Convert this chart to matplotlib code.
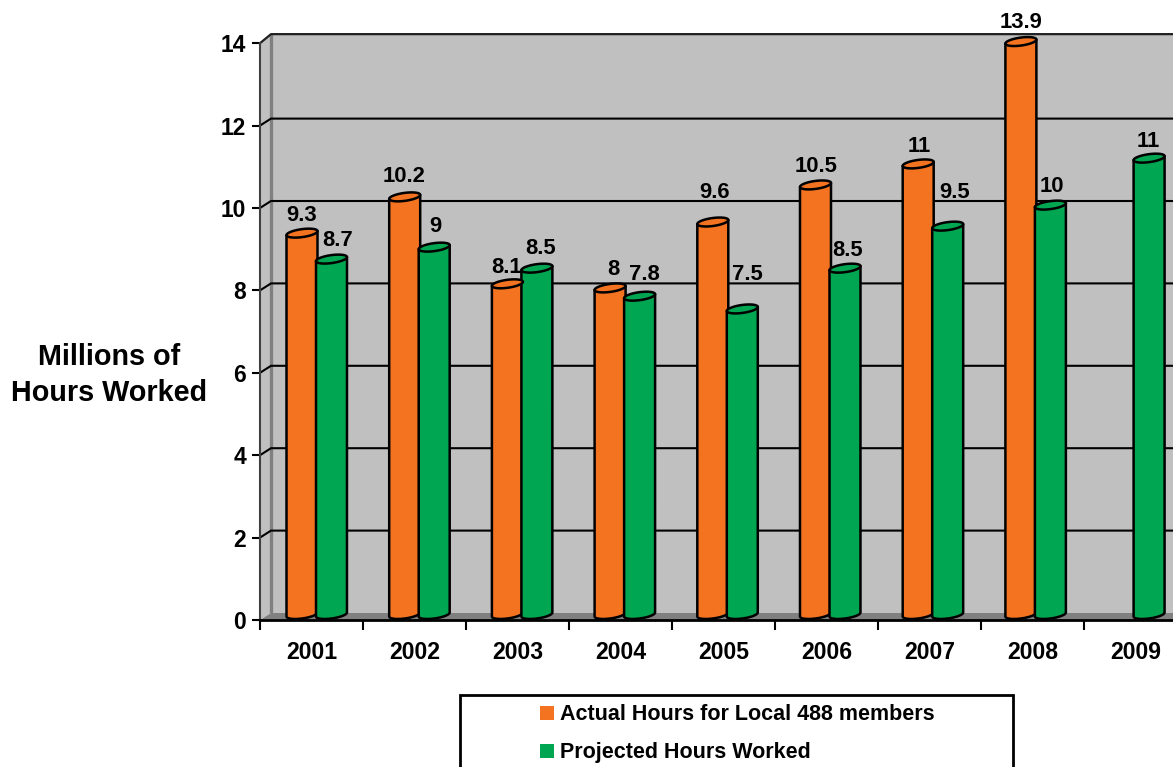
# -*- coding: utf-8 -*-
import numpy as np
from matplotlib import pyplot as plt
from matplotlib.patches import Polygon, Rectangle
from matplotlib.ticker import FixedLocator

plt.rcParams['font.family'] = ['Liberation Sans', 'DejaVu Sans']
plt.rcParams['font.weight'] = 'bold'

# data
years = ['2001', '2002', '2003', '2004', '2005', '2006', '2007', '2008', '2009']
actual = [9.3, 10.2, 8.1, 8, 9.6, 10.5, 11, 13.9, None]
projected = [8.7, 9, 8.5, 7.8, 7.5, 8.5, 9.5, 10, 11]
# heights as drawn, the chart does not quite follow its own labels
actual_drawn = [9.39, 10.27, 8.16, 8.06, 9.66, 10.56, 11.07, 14.04, None]
projected_drawn = [8.76, 9.05, 8.54, 7.86, 7.55, 8.54, 9.56, 10.07, 11.21]
yticks = [0, 2, 4, 6, 8, 10, 12, 14]
series_names = ['Actual Hours for Local 488 members', 'Projected Hours Worked']

ORANGE = '#F47321'
GREEN = '#00A651'
WALL = '#C0C0C0'
DARK = '#808080'

W, H = 1173, 767
X0, Y0, CAT, UNIT = 260, 620, 103, 41.2  # pixels
DX = 11 / CAT
DY = 7 / UNIT
BAR_STEP = 102.7 / CAT

# label nudges in pixels, from the top of each bar
actual_off = [(0, 17.5), (-1, 20.5), (-1, 16.5), (3, 18.5), (2, 29.5), (1, 18.5), (1, 17.5), (0, 19.5), None]
projected_off = [(6, 18.5), (1, 20.5), (4, 19.5), (5, 21.5), (5, 34.5), (3, 17.5), (7, 33.5), (1, 18.5), (-1, 16.5)]
# bar nudges in pixels, the 2009 bar sits a little left of the regular spacing
projected_nudge = [0, 0, 0, 0, 0, 0, 0, 0, -4]

fig = plt.figure(figsize=(W / 100, H / 100), dpi=100)
ax = fig.add_axes([X0 / W, (H - Y0) / H, (W - X0) / W, 14 * UNIT / H])
ax.set_xlim(0, (W - X0) / CAT)
ax.set_ylim(0, 14)
ax.patch.set_visible(False)

# walls and floor
xmax = ax.get_xlim()[1]
top = 14.05 + DY
ax.add_patch(Rectangle((DX, DY), xmax - DX, top - DY, fc=WALL, ec='none', zorder=1, clip_on=False))
ax.add_patch(Polygon([(0, 0), (DX, DY), (DX, top), (0, 14)], fc=WALL, ec='none', zorder=1, clip_on=False))
ax.add_patch(Polygon([(0, 0), (DX, DY), (xmax, DY), (xmax, 0)], fc=DARK, ec='none', zorder=1))
ax.plot([DX, DX], [DY, top], color=DARK, lw=2.4, zorder=2, solid_capstyle='butt', clip_on=False)
ax.plot([0, DX, xmax], [14, top, top], color='#202020', lw=1.6, zorder=2, clip_on=False)
for v in yticks[1:-1]:
    ax.plot([0, DX, xmax], [v, v + DY, v + DY], color='black', lw=1.5, zorder=2, solid_joinstyle='miter')


def cylinder(cx, value, color):
    # bar with elliptical ends, slightly tilted as in the picture
    a = 15.5 / CAT
    b = 4 / UNIT
    tilt = 2 / UNIT
    t = np.linspace(0, 2 * np.pi, 60)
    ex = cx + a * np.cos(t)
    lift = 5.5 / UNIT
    low = t <= np.pi
    # body: bottom half of the base ellipse, up to the top ellipse
    bx = cx - a * np.cos(t[low])
    by = lift - b * np.sin(t[low]) - tilt * np.cos(t[low])
    body = list(zip(bx, by)) + [(cx + a, value + tilt), (cx - a, value - tilt)]
    ax.add_patch(Polygon(body, fc=color, ec='black', lw=1.8, zorder=4, joinstyle='round', clip_on=False))
    ey = value + b * np.sin(t) + tilt * np.cos(t)
    ax.add_patch(Polygon(list(zip(ex, ey)), fc=color, ec='black', lw=1.8, zorder=5, clip_on=False))


offsets = [(42 / CAT, actual, actual_drawn, actual_off, [0] * len(years), ORANGE),
           (71.5 / CAT, projected, projected_drawn, projected_off, projected_nudge, GREEN)]
for shift, labels, drawn, offs, nudge, color in offsets:
    for i in range(len(years)):
        if drawn[i] is None:
            continue
        cx = i * BAR_STEP + shift + nudge[i] / CAT
        cylinder(cx, drawn[i], color)
        ax.annotate(str(labels[i]), (cx, drawn[i]), xytext=(offs[i][0] * 0.72, offs[i][1] * 0.72),
                    textcoords='offset points', ha='center', va='center', fontsize=15.8,
                    fontweight='bold', color='black', zorder=6, annotation_clip=False)

# axes
ax.spines['top'].set_visible(False)
ax.spines['right'].set_visible(False)
ax.spines['left'].set_color('#404040')
ax.spines['left'].set_linewidth(1.5)
ax.spines['bottom'].set_color('black')
ax.spines['bottom'].set_linewidth(2)
ax.spines['left'].set_zorder(3)
ax.spines['bottom'].set_zorder(3)

ax.set_yticks(yticks)
ax.tick_params(axis='y', length=6, width=1.5, pad=4, labelsize=16.4)
ax.set_xticks(np.arange(len(years)) + 0.5)
ax.set_xticklabels(years)
ax.tick_params(axis='x', which='major', length=0, pad=15.1, labelsize=16.6)
ax.xaxis.set_minor_locator(FixedLocator(np.arange(0, len(years))))
ax.tick_params(axis='x', which='minor', length=7.2, width=1.5)

ax.set_ylabel('Millions of\nHours Worked', rotation=0, fontsize=20.7, fontweight='bold',
              ha='center', va='center', linespacing=1.36)
ax.yaxis.set_label_coords((109 - X0) / (W - X0), (Y0 - 375) / (14 * UNIT))

# legend box runs off the bottom of the picture
fig.add_artist(Rectangle((460 / W, -10 / H), 553 / W, (H - 694.5 + 10) / H, transform=fig.transFigure,
                         fc='white', ec='black', lw=2))
for name, color, py in zip(series_names, [ORANGE, GREEN], [713, 750.5]):
    fig.add_artist(Rectangle((540 / W, (H - py - 7) / H), 14 / W, 14 / H, transform=fig.transFigure,
                             fc=color, ec='none'))
    fig.text(560 / W, (H - py - 2) / H, name, fontsize=15.5, fontweight='bold', va='center', color='black')

fig.savefig('out.png', dpi=100)
